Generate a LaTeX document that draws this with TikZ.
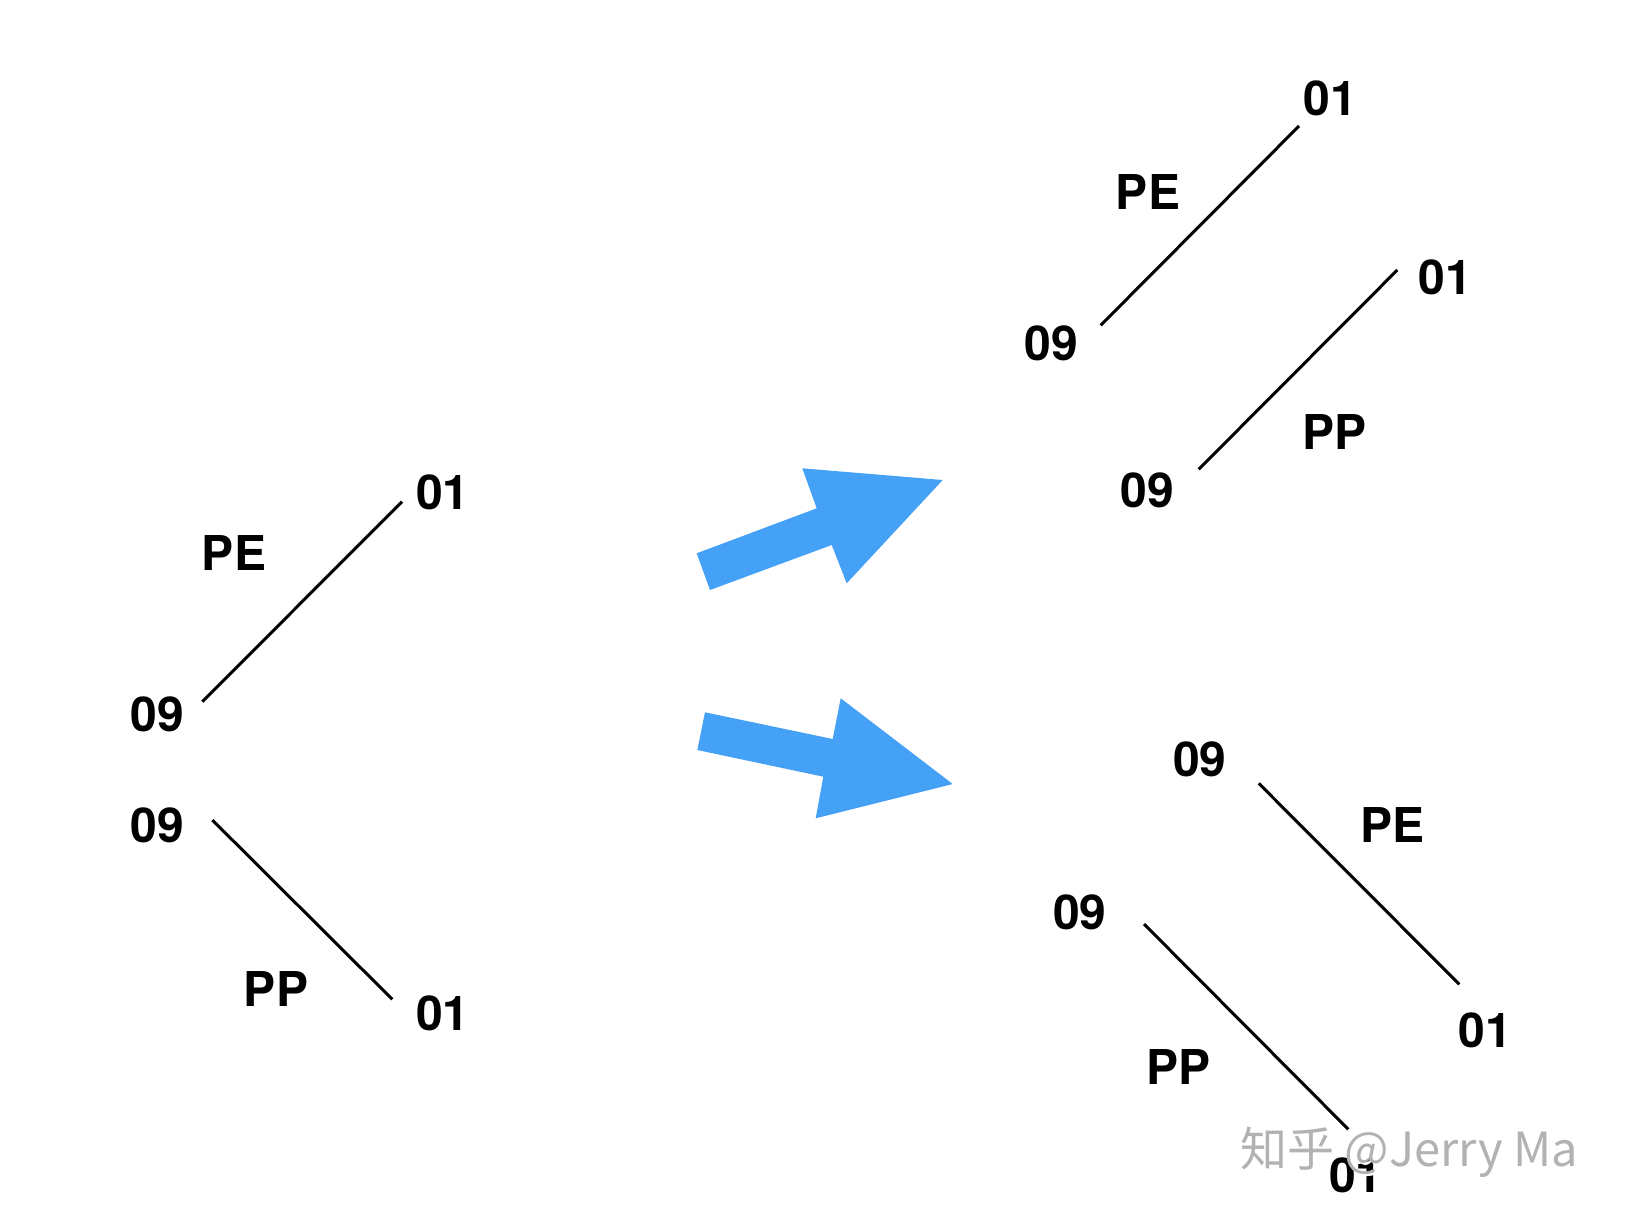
\documentclass[tikz,border=0pt]{standalone}
\usepackage{fontspec}
\setmainfont{TeX Gyre Heros}
\newfontfamily\cjk{Noto Sans CJK SC}
\definecolor{arrowblue}{RGB}{69,161,246}
\definecolor{wmgray}{RGB}{178,178,178}
\begin{document}
\begin{tikzpicture}[x=1pt,y=-1pt,
  lbl/.style={inner sep=0pt,font=\fontsize{48}{50}\selectfont\bfseries},
  link/.style={line width=3pt,black},
  bigarrow/.style={fill=arrowblue,draw=none},
  wmark/.style={inner sep=0pt,font=\fontsize{47}{49}\selectfont\cjk}]
\useasboundingbox (0,0) rectangle (1628,1226);
\fill[white] (0,0) rectangle (1628,1226);

% ---- left pair ----
\node[lbl] (L01a) at (442.7,492) {01};
\node[lbl] (LPE)  at (234,553) {PE};
\node[lbl] (L09a) at (157.5,714.5) {09};
\node[lbl] (L09b) at (157.5,825) {09};
\node[lbl] (LPP)  at (276,989) {PP};
\node[lbl] (L01b) at (442.7,1013) {01};
\coordinate (la1) at (402,501.7);
\coordinate (la2) at (202.3,701.7);
\coordinate (lb1) at (212.3,820);
\coordinate (lb2) at (392.3,999.3);
\draw[link] (la2) -- (la1);
\draw[link] (lb1) -- (lb2);

% ---- arrows ----
\coordinate (A1) at (696.7,553.3);
\coordinate (A2) at (816.7,508.3);
\coordinate (A3) at (802.3,468.3);
\coordinate (A4) at (942.7,480);
\coordinate (A5) at (846.7,583.3);
\coordinate (A6) at (831.7,545);
\coordinate (A7) at (710,590);
\fill[bigarrow] (A1) -- (A2) -- (A3) -- (A4) -- (A5) -- (A6) -- (A7) -- cycle;
\coordinate (B1) at (705,712.3);
\coordinate (B2) at (832.7,739);
\coordinate (B3) at (840.7,698.3);
\coordinate (B4) at (952.7,784);
\coordinate (B5) at (815.7,818.3);
\coordinate (B6) at (823.3,776.7);
\coordinate (B7) at (697.3,750);
\fill[bigarrow] (B1) -- (B2) -- (B3) -- (B4) -- (B5) -- (B6) -- (B7) -- cycle;

% ---- right top ----
\node[lbl] (T01a) at (1330,98.3) {01};
\node[lbl] (TPE)  at (1148,192.5) {PE};
\node[lbl] (T09a) at (1051.3,343.3) {09};
\node[lbl] (T01b) at (1445,277.5) {01};
\node[lbl] (TPP)  at (1334.5,431.7) {PP};
\node[lbl] (T09b) at (1147.5,490.8) {09};
\coordinate (ta1) at (1299,126);
\coordinate (ta2) at (1100.7,325.3);
\coordinate (tb1) at (1397.3,270);
\coordinate (tb2) at (1198.7,469.3);
\draw[link] (ta2) -- (ta1);
\draw[link] (tb2) -- (tb1);

% ---- right bottom ----
\node[lbl] (B09a) at (1199.8,759.3) {09};
\node[lbl] (BPE)  at (1392,825) {PE};
\node[lbl] (B09b) at (1079.8,912) {09};
\node[lbl] (BPP)  at (1178.3,1067) {PP};
\node[lbl] (B01a) at (1485,1030) {01};
\node[lbl] (B01b) at (1355.8,1175.8) {01};
\coordinate (ba1) at (1258.7,783.3);
\coordinate (ba2) at (1459.3,984.3);
\coordinate (bb1) at (1144,924);
\coordinate (bb2) at (1348.3,1129.3);
\draw[link] (ba1) -- (ba2);
\draw[link] (bb1) -- (bb2);

% ---- watermark ----
\node[wmark,text=white] (wmshadow) at (1410.5,1154) {知乎 @Jerry Ma};
\node[wmark,text=wmgray] (wm) at (1409,1152) {知乎 @Jerry Ma};
\end{tikzpicture}
\end{document}
